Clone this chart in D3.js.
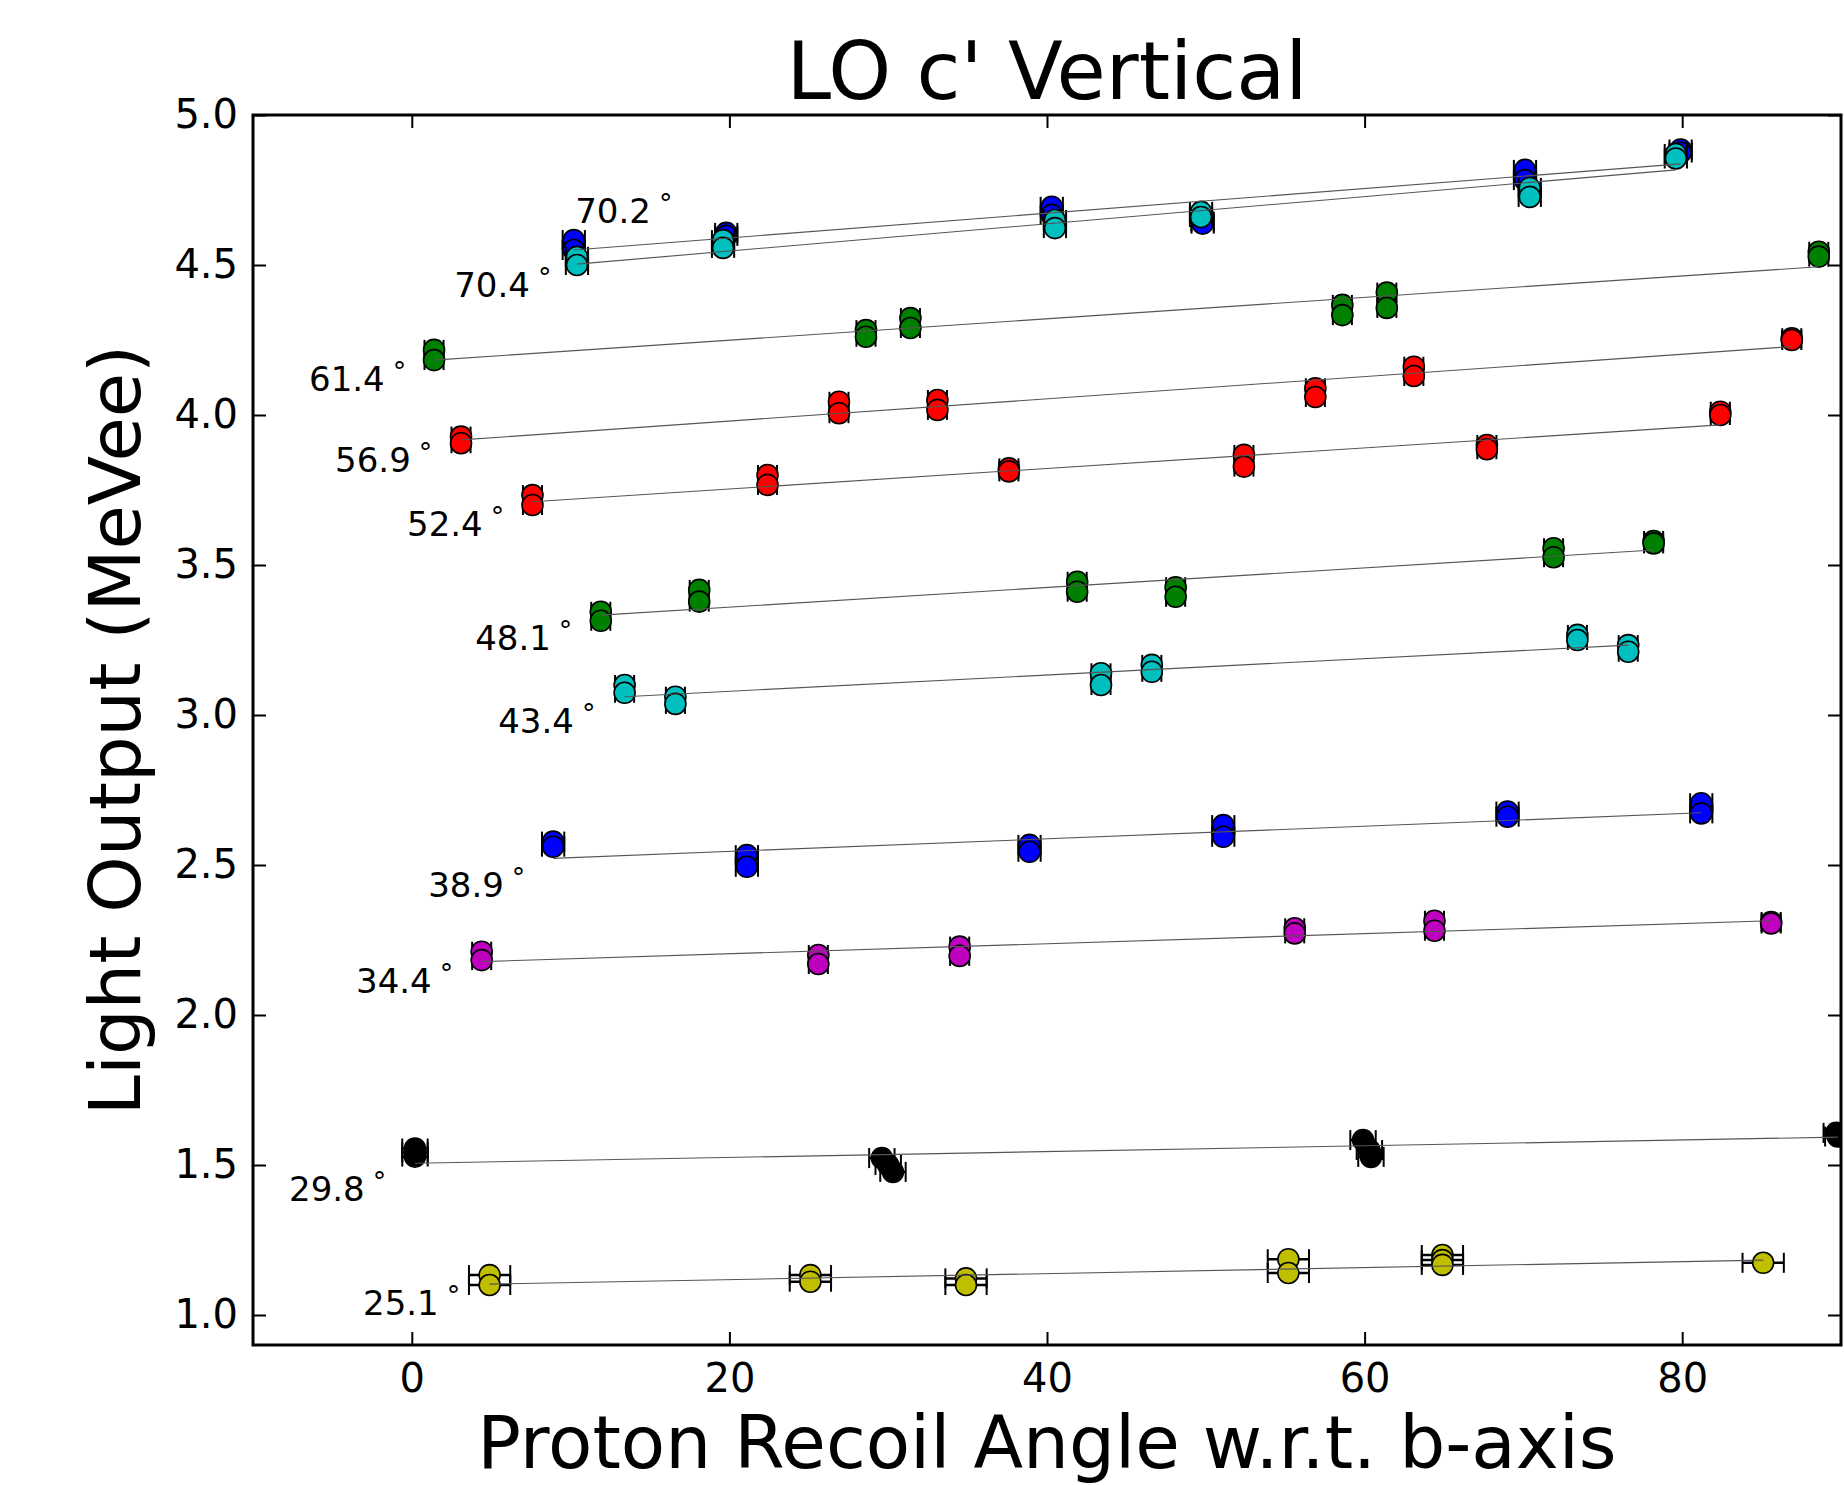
<!DOCTYPE html>
<html>
<head>
<meta charset="utf-8">
<script src="https://cdn.jsdelivr.net/npm/d3@7"></script>
<style>
  html, body { margin: 0; padding: 0; background: #ffffff; }
  svg { display: block; font-family: "DejaVu Sans", sans-serif; }
</style>
</head>
<body>
<svg id="chart" width="1844" height="1485"></svg>
<script>
// ---------------- data ----------------
const seriesNames = ["70.2", "70.4", "61.4", "56.9", "52.4", "48.1", "43.4", "38.9", "34.4", "29.8", "25.1"];
const seriesColors = ["#0000ff", "#00bfbf", "#008000", "#ff0000", "#ff0000", "#008000", "#00bfbf", "#0000ff", "#bf00bf", "#000000", "#bfbf00"];

const series70_2 = [[10.2,4.583],[10.2,4.55],[19.8,4.607],[19.8,4.597],[40.3,4.694],[40.3,4.667],[49.8,4.645],[49.8,4.638],[70.1,4.817],[70.1,4.783],[79.9,4.885],[79.9,4.875]];
const series70_4 = [[10.4,4.527],[10.4,4.5],[19.6,4.583],[19.6,4.557],[40.5,4.65],[40.5,4.623],[49.7,4.677],[49.7,4.66],[70.4,4.757],[70.4,4.727],[79.6,4.87],[79.6,4.855]];
const series61_4 = [[1.4,4.217],[1.4,4.183],[28.6,4.283],[28.6,4.261],[31.4,4.323],[31.4,4.29],[58.6,4.367],[58.6,4.333],[61.4,4.408],[61.4,4.357],[88.6,4.544],[88.6,4.528]];
const series56_9 = [[3.1,3.928],[3.1,3.906],[26.9,4.044],[26.9,4.006],[33.1,4.05],[33.1,4.017],[56.9,4.089],[56.9,4.06],[63.1,4.161],[63.1,4.13],[86.9,4.256],[86.9,4.25]];
const series52_4 = [[7.6,3.733],[7.6,3.7],[22.4,3.8],[22.4,3.767],[37.6,3.822],[37.6,3.812],[52.4,3.867],[52.4,3.828],[67.7,3.9],[67.7,3.886],[82.4,4.011],[82.4,4.0]];
const series48_1 = [[11.9,3.344],[11.9,3.314],[18.1,3.417],[18.1,3.378],[41.9,3.444],[41.9,3.411],[48.1,3.426],[48.1,3.394],[71.9,3.556],[71.9,3.526],[78.2,3.58],[78.2,3.572]];
const series43_4 = [[13.4,3.1],[13.4,3.074],[16.6,3.061],[16.6,3.037],[43.4,3.139],[43.4,3.1],[46.6,3.167],[46.6,3.144],[73.4,3.267],[73.4,3.25],[76.6,3.233],[76.6,3.211]];
const series38_9 = [[8.9,2.578],[8.9,2.561],[21.1,2.533],[21.1,2.494],[38.9,2.567],[38.9,2.544],[51.1,2.633],[51.1,2.594],[69.0,2.678],[69.0,2.661],[81.2,2.706],[81.2,2.672]];
const series34_4 = [[4.4,2.211],[4.4,2.183],[25.6,2.2],[25.6,2.17],[34.5,2.228],[34.5,2.197],[55.6,2.289],[55.6,2.272],[64.4,2.314],[64.4,2.281],[85.6,2.31],[85.6,2.305]];
const series29_8 = [[0.2,1.555],[0.2,1.542],[0.2,1.528],[29.6,1.523],[30.0,1.5],[30.3,1.477],[59.9,1.583],[60.3,1.55],[60.4,1.527],[89.7,1.607],[89.8,1.595]];
const series25_1 = [[4.9,1.133],[4.9,1.1],[25.1,1.133],[25.1,1.111],[34.9,1.122],[34.9,1.1],[55.2,1.186],[55.2,1.14],[64.9,1.2],[64.9,1.183],[64.9,1.167],[85.1,1.174]];

const seriesPoints = [series70_2, series70_4, series61_4, series56_9, series52_4, series48_1, series43_4, series38_9, series34_4, series29_8, series25_1];
const seriesXErr = [0.7, 0.7, 0.6, 0.6, 0.6, 0.6, 0.6, 0.7, 0.6, 0.8, 1.3];

const fitStart = [[10.2,4.550],[10.4,4.503],[1.4,4.183],[3.1,3.917],[7.6,3.711],[11.9,3.333],[13.4,3.061],[8.9,2.522],[4.4,2.178],[0.2,1.506],[4.9,1.103]];
const fitEnd   = [[79.9,4.837],[79.6,4.817],[88.6,4.494],[86.9,4.228],[82.4,3.967],[78.2,3.55],[76.6,3.233],[81.2,2.674],[85.6,2.314],[89.8,1.593],[85.1,1.183]];

const labelX = [10.29, 2.67, -6.47, -4.83, -0.3, 3.99, 5.44, 1.03, -3.51, -7.73, -3.07];
const labelY = [4.64, 4.393, 4.08, 3.81, 3.597, 3.217, 2.94, 2.393, 2.073, 1.38, 1.0];

const xTicks = [0, 20, 40, 60, 80];
const yTicks = [1.0, 1.5, 2.0, 2.5, 3.0, 3.5, 4.0, 4.5, 5.0];
const xDomain = [-10, 90];
const yDomain = [0.9, 5.0];

const titleText = "LO c' Vertical";
const xLabelText = "Proton Recoil Angle w.r.t. b-axis";
const yLabelText = "Light Output (MeVee)";

// ---------------- layout ----------------
const W = 1844, H = 1485;
const margin = { left: 253, right: 3, top: 115, bottom: 140 };
const pw = W - margin.left - margin.right;
const ph = H - margin.top - margin.bottom;

const svg = d3.select("#chart");
svg.append("rect").attr("width", W).attr("height", H).attr("fill", "#ffffff");

const x = d3.scaleLinear().domain(xDomain).range([0, pw]);
const y = d3.scaleLinear().domain(yDomain).range([ph, 0]);

const g = svg.append("g").attr("transform", `translate(${margin.left},${margin.top})`);

g.append("defs").append("clipPath").attr("id", "plotclip")
  .append("rect").attr("x", 0).attr("y", 0).attr("width", pw).attr("height", ph);

// axes
const tickLen = 13;
const axB = g.append("g").attr("transform", `translate(0,${ph})`)
  .call(d3.axisBottom(x).tickValues(xTicks).tickSize(-tickLen).tickPadding(19).tickFormat(d3.format("d")));
const axT = g.append("g")
  .call(d3.axisTop(x).tickValues(xTicks).tickSize(-tickLen).tickFormat(""));
const axL = g.append("g")
  .call(d3.axisLeft(y).tickValues(yTicks).tickSize(-tickLen).tickPadding(15).tickFormat(d3.format(".1f")));
const axR = g.append("g").attr("transform", `translate(${pw},0)`)
  .call(d3.axisRight(y).tickValues(yTicks).tickSize(-tickLen).tickFormat(""));

[axB, axT, axL, axR].forEach(a => {
  a.select(".domain").remove();
  a.selectAll(".tick line").attr("stroke", "#000").attr("stroke-width", 2);
  a.selectAll(".tick text").attr("fill", "#000").style("font-size", "40px")
    .style("font-family", "'DejaVu Sans', sans-serif");
});

// data layer
const plot = g.append("g").attr("clip-path", "url(#plotclip)");
const capHalf = 10;

seriesPoints.forEach((pts, i) => {
  const sg = plot.append("g");
  const xe = seriesXErr[i];
  // horizontal error bars with caps
  pts.forEach(p => {
    const cy = y(p[1]);
    sg.append("line").attr("x1", x(p[0] - xe)).attr("x2", x(p[0] + xe))
      .attr("y1", cy).attr("y2", cy).attr("stroke", "#000").attr("stroke-width", 2.5);
    [p[0] - xe, p[0] + xe].forEach(cx => {
      sg.append("line").attr("x1", x(cx)).attr("x2", x(cx))
        .attr("y1", cy - capHalf).attr("y2", cy + capHalf)
        .attr("stroke", "#000").attr("stroke-width", 2);
    });
  });
  // markers
  sg.selectAll("circle").data(pts).join("circle")
    .attr("cx", d => x(d[0])).attr("cy", d => y(d[1])).attr("r", 10.5)
    .attr("fill", seriesColors[i]).attr("stroke", "#000").attr("stroke-width", 1.6);
});

// fit lines drawn on top
const lineGen = d3.line().x(d => x(d[0])).y(d => y(d[1]));
fitStart.forEach((s, i) => {
  plot.append("path").attr("d", lineGen([s, fitEnd[i]]))
    .attr("fill", "none").attr("stroke", "#555").attr("stroke-width", 1.1);
});

// labels
seriesNames.forEach((name, i) => {
  const t = g.append("text").attr("x", x(labelX[i])).attr("y", y(labelY[i]))
    .style("font-size", "34px").attr("fill", "#000");
  t.append("tspan").text(name);
  t.append("tspan").text("°").attr("dx", 8).attr("dy", -10).style("font-size", "27px");
});

// frame
g.append("rect").attr("x", 0).attr("y", 0).attr("width", pw).attr("height", ph)
  .attr("fill", "none").attr("stroke", "#000").attr("stroke-width", 3);

// titles
svg.append("text").attr("x", margin.left + pw / 2).attr("y", 99)
  .attr("text-anchor", "middle").style("font-size", "80px").text(titleText);
svg.append("text").attr("x", margin.left + pw / 2).attr("y", 1468)
  .attr("text-anchor", "middle").style("font-size", "72.5px").text(xLabelText);
svg.append("text").attr("transform", `translate(140,${margin.top + ph / 2}) rotate(-90)`)
  .attr("text-anchor", "middle").style("font-size", "72px").text(yLabelText);
</script>
</body>
</html>
